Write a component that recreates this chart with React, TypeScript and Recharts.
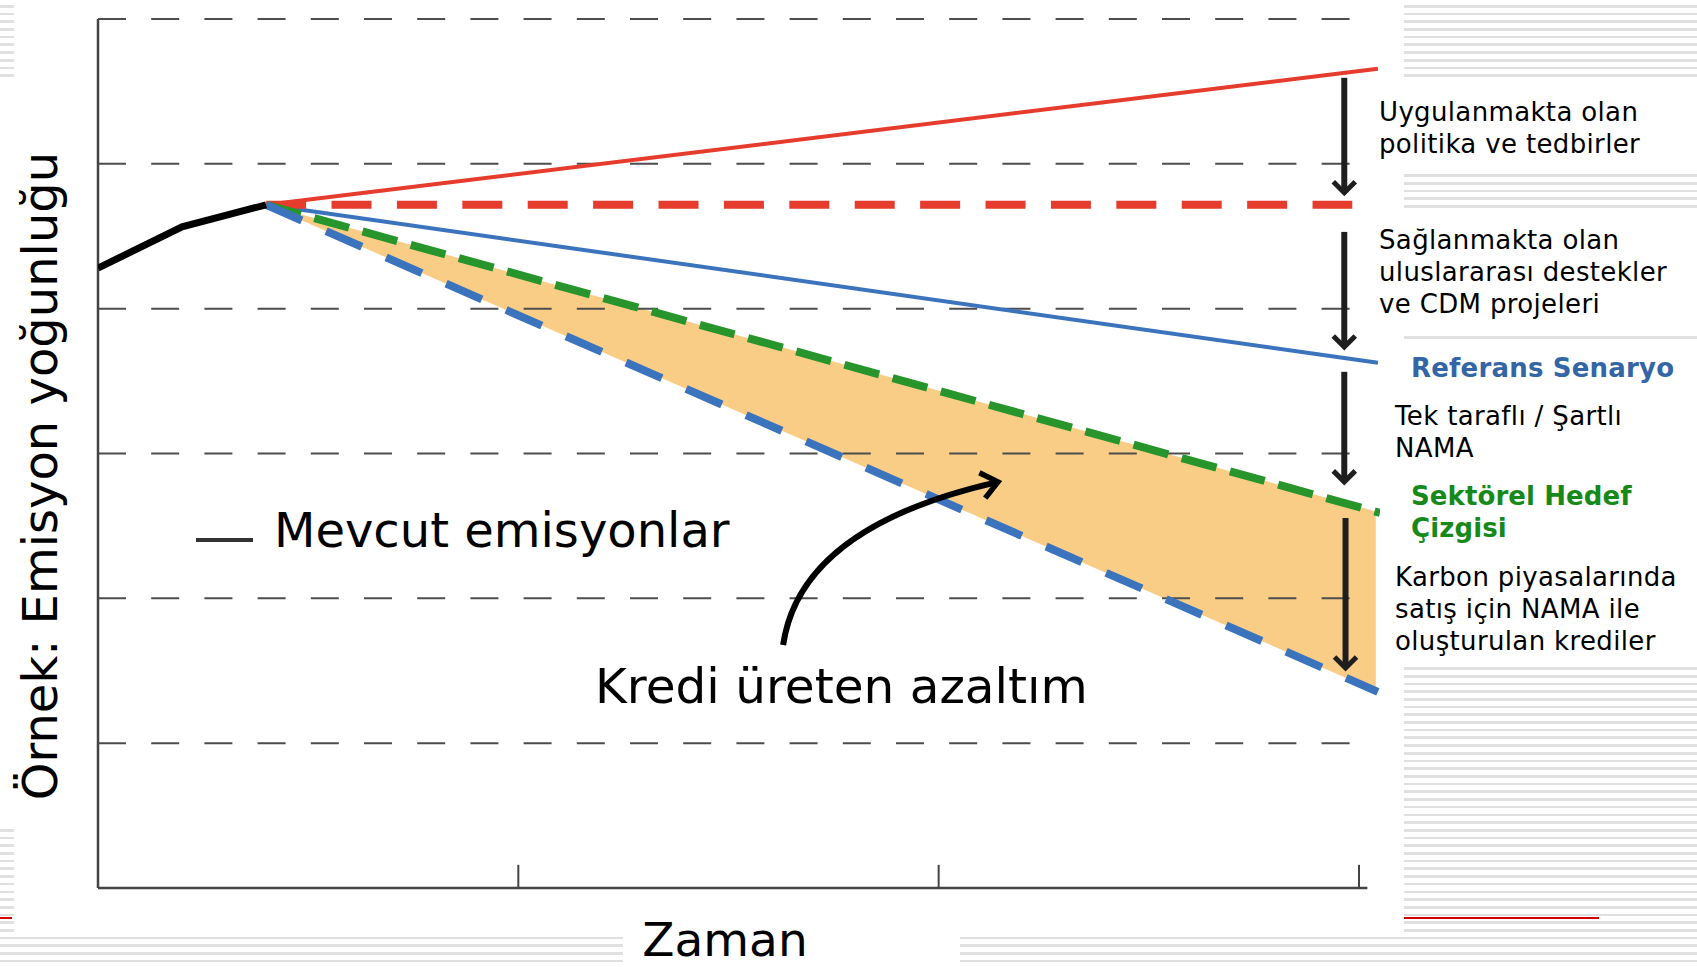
import { Area, ComposedChart, Line, ReferenceLine, XAxis, YAxis } from "recharts";

// değerler: x = zaman (0–3), y = emisyon yoğunluğu (0–6)
const currentEmissions = [
  { t: 0, v: 4.28 },
  { t: 0.2, v: 4.565 },
  { t: 0.4, v: 4.717 },
];
const policyLine = [
  { t: 0.4, v: 4.717 },
  { t: 3.045, v: 5.656 },
];
const policyDashed = [
  { t: 0.4, v: 4.717 },
  { t: 2.984, v: 4.717 },
];
const referenceScenario = [
  { t: 0.4, v: 4.717 },
  { t: 3.045, v: 3.626 },
];
const sectoralTarget = [
  { t: 0.4, v: 4.717 },
  { t: 3.05, v: 2.59 },
];
const creditLine = [
  { t: 0.4, v: 4.717 },
  { t: 3.045, v: 1.354 },
];
const creditBand = [
  { t: 0.4, band: [4.717, 4.717] },
  { t: 3.04, band: [1.36, 2.6] },
];
const gridLevels = [1, 2, 3, 4, 5, 6];
const timeTicks = [1, 2, 3];
const gapArrows = [
  { t: 2.965, from: 5.594, to: 4.8 },
  { t: 2.965, from: 4.53, to: 3.736 },
  { t: 2.965, from: 3.564, to: 2.804 },
  { t: 2.968, from: 2.555, to: 1.519 },
];
const creditArrow = { from: { t: 1.63, v: 1.678 }, to: { t: 2.141, v: 2.804 } };

const sideNotes = [
  { x: 1379, y: 121, lines: ["Uygulanmakta olan", "politika ve tedbirler"] },
  { x: 1379, y: 249, lines: ["Sağlanmakta olan", "uluslararası destekler", "ve CDM projeleri"] },
  { x: 1395, y: 425, lines: ["Tek taraflı / Şartlı", "NAMA"] },
  { x: 1395, y: 586, lines: ["Karbon piyasalarında", "satış için NAMA ile", "oluşturulan krediler"] },
];

const RED = "#e63c2e";
const BLUE = "#3c73bd";
const GREEN = "#27952c";
const INK = "#1e1e1e";
const AXIS = "#444";
const FONT = "'DejaVu Sans', Verdana, sans-serif";

const stripes =
  "repeating-linear-gradient(to bottom, #ffffff 0px, #ffffff 5px, #e0e0e0 5px, #e0e0e0 7.7px)";

function DownArrow(p: any) {
  const { x1, y1, x2, y2 } = p;
  return (
    <g>
      <line x1={x1} y1={y1} x2={x2} y2={y2 - 3} stroke={INK} strokeWidth={6} />
      <path
        d={`M${x2 - 11},${y2 - 11} L${x2},${y2} L${x2 + 11},${y2 - 11}`}
        fill="none"
        stroke={INK}
        strokeWidth={5}
      />
    </g>
  );
}

function CurvedArrow(p: any) {
  const { x1, y1, x2, y2 } = p;
  const cx = x1 + 0.08 * (x2 - x1);
  const cy = y2 + 0.28 * (y1 - y2);
  const len = Math.hypot(x2 - cx, y2 - cy);
  const dx = (x2 - cx) / len;
  const dy = (y2 - cy) / len;
  const nx = -dy;
  const ny = dx;
  return (
    <g>
      <path d={`M${x1},${y1} Q${cx},${cy} ${x2 - dx * 3},${y2 - dy * 3}`} fill="none" stroke="#000" strokeWidth={6} />
      <path
        d={`M${x2 - 16 * dx + 13 * nx},${y2 - 16 * dy + 13 * ny} L${x2},${y2} L${x2 - 16 * dx - 13 * nx},${y2 - 16 * dy - 13 * ny}`}
        fill="none"
        stroke="#000"
        strokeWidth={5.5}
      />
    </g>
  );
}

const box = (left: number, top: number, width: number, height: number) => (
  <div style={{ position: "absolute", left, top, width, height, background: "#fff" }} />
);

export default function App() {
  return (
    <div
      style={{
        position: "absolute",
        left: 0,
        top: 0,
        width: 1697,
        height: 967,
        overflow: "hidden",
        background: stripes,
      }}
    >
      {box(14, 0, 1390, 935)}
      {box(0, 80, 14, 744)}
      {box(623, 935, 337, 32)}
      {box(1404, 82, 293, 90)}
      {box(1404, 212, 293, 121)}
      {box(1404, 342, 293, 325)}
      <div style={{ position: "absolute", left: 1404, top: 917, width: 195, height: 2, background: "#d40000" }} />
      <div style={{ position: "absolute", left: 0, top: 917, width: 12, height: 2, background: "#d40000" }} />

      <div style={{ position: "absolute", left: 0, top: 0 }}>
        <ComposedChart width={1697} height={967} margin={{ top: 19, right: 317, bottom: 79, left: 98 }}>
          <XAxis dataKey="t" type="number" domain={[0, 3.05]} allowDataOverflow hide />
          <YAxis type="number" domain={[0, 6]} allowDataOverflow hide />

          {gridLevels.map((g) => (
            <ReferenceLine
              key={`g${g}`}
              segment={[
                { x: 0, y: g },
                { x: 3.03, y: g },
              ]}
              stroke="#4d4d4d"
              strokeWidth={2}
              strokeDasharray="28 25.2"
              ifOverflow="visible"
            />
          ))}
          <ReferenceLine segment={[{ x: 0, y: 0 }, { x: 0, y: 6 }]} stroke={AXIS} strokeWidth={2.5} ifOverflow="visible" />
          <ReferenceLine segment={[{ x: 0, y: 0 }, { x: 3.02, y: 0 }]} stroke={AXIS} strokeWidth={2.5} ifOverflow="visible" />
          {timeTicks.map((t) => (
            <ReferenceLine
              key={`t${t}`}
              segment={[
                { x: t, y: 0 },
                { x: t, y: 0.16 },
              ]}
              stroke={AXIS}
              strokeWidth={2}
              ifOverflow="visible"
            />
          ))}

          <Area
            data={creditBand}
            dataKey="band"
            type="linear"
            fill="#f9cd86"
            fillOpacity={1}
            stroke="none"
            isAnimationActive={false}
          />
          <Line data={referenceScenario} dataKey="v" type="linear" stroke={BLUE} strokeWidth={4} dot={false} isAnimationActive={false} />
          <Line data={policyLine} dataKey="v" type="linear" stroke={RED} strokeWidth={4} dot={false} isAnimationActive={false} />
          <Line
            data={policyDashed}
            dataKey="v"
            type="linear"
            stroke={RED}
            strokeWidth={8}
            strokeDasharray="40 25.4"
            dot={false}
            isAnimationActive={false}
          />
          <Line
            data={sectoralTarget}
            dataKey="v"
            type="linear"
            stroke={GREEN}
            strokeWidth={8}
            strokeDasharray="36 14"
            dot={false}
            isAnimationActive={false}
          />
          <Line
            data={creditLine}
            dataKey="v"
            type="linear"
            stroke={BLUE}
            strokeWidth={8}
            strokeDasharray="39 26.5"
            dot={false}
            isAnimationActive={false}
          />
          <Line data={currentEmissions} dataKey="v" type="linear" stroke="#000" strokeWidth={7} dot={false} isAnimationActive={false} />

          {gapArrows.map((a, i) => (
            <ReferenceLine
              key={`a${i}`}
              segment={[
                { x: a.t, y: a.from },
                { x: a.t, y: a.to },
              ]}
              ifOverflow="visible"
              shape={DownArrow}
            />
          ))}
          <ReferenceLine
            segment={[
              { x: creditArrow.from.t, y: creditArrow.from.v },
              { x: creditArrow.to.t, y: creditArrow.to.v },
            ]}
            ifOverflow="visible"
            shape={CurvedArrow}
          />
        </ComposedChart>
      </div>

      <svg
        width={1697}
        height={967}
        style={{ position: "absolute", left: 0, top: 0, pointerEvents: "none" }}
        fontFamily={FONT}
      >
        <text transform="translate(57,476) rotate(-90)" textAnchor="middle" fontSize={48} fill="#000">
          Örnek: Emisyon yoğunluğu
        </text>
        <text x={725} y={956} textAnchor="middle" fontSize={47} fill="#000">
          Zaman
        </text>
        <line x1={196} y1={540} x2={253} y2={540} stroke="#333" strokeWidth={4} />
        <text x={274} y={547} fontSize={48} fill="#000">
          Mevcut emisyonlar
        </text>
        <text x={595} y={703} fontSize={48.5} fill="#000">
          Kredi üreten azaltım
        </text>
        {sideNotes.map((n, i) => (
          <text key={i} x={n.x} y={n.y} fontSize={26} letterSpacing={0.35} fill="#000">
            {n.lines.map((l, j) => (
              <tspan key={j} x={n.x} dy={j === 0 ? 0 : 32}>
                {l}
              </tspan>
            ))}
          </text>
        ))}
        <text x={1411} y={377} fontSize={26} letterSpacing={0.2} fontWeight="bold" fill="#3465a4">
          Referans Senaryo
        </text>
        <text x={1411} y={505} fontSize={26} letterSpacing={0.1} fontWeight="bold" fill="#17891b">
          <tspan x={1411}>Sektörel Hedef</tspan>
          <tspan x={1411} dy={32}>
            Çizgisi
          </tspan>
        </text>
      </svg>
    </div>
  );
}
